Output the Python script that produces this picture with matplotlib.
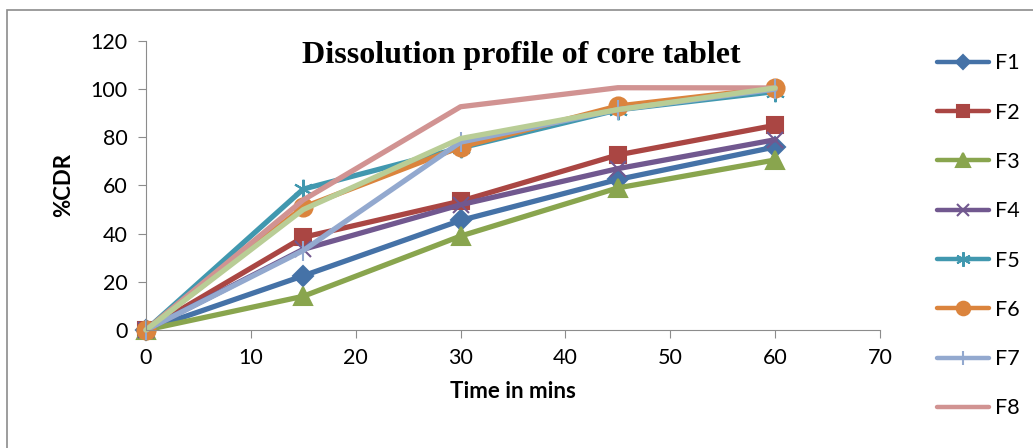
import matplotlib.pyplot as plt
from matplotlib.patches import Rectangle

time_min = [0, 15, 30, 45, 60]

f1 = [0, 22.5, 45.5, 62.5, 76]
f2 = [0, 38.5, 53.5, 72.7, 85]
f3 = [0, 14, 39, 59, 70.6]
f4 = [0, 33.5, 52, 67, 79]
f5 = [0, 58.5, 75.6, 91.4, 99]
f6 = [0, 51, 76, 93, 100.5]
f7 = [0, 33, 78, 91.5, 100]
f8 = [0, 54, 92.7, 100.6, 100.5]
f9 = [0, 50, 79.5, 91.5, 100.5]

labels = ["F1", "F2", "F3", "F4", "F5", "F6", "F7", "F8", "F9"]
series = [f1, f2, f3, f4, f5, f6, f7, f8, f9]
colors = ["#4572A7", "#AA4643", "#89A54E", "#71588F", "#4198AF",
          "#DB843D", "#93A9CF", "#D19392", "#B9CD96"]
markers = ["D", "s", "^", "x", (6, 2, 0), "o", "|", None, None]
msizes = [10, 12, 13, 12, 14, 13, 14, 0, 0]

plt.rcParams["font.family"] = ["Lato", "DejaVu Sans"]

fig = plt.figure(figsize=(10.33, 4.48), dpi=100)
fig.patches.append(Rectangle((0.007, -0.1), 1.1, 1.078, transform=fig.transFigure,
                             fill=False, edgecolor="#8c8c8c", linewidth=1.2))

ax = fig.add_axes([0.1413, 0.2634, 0.7106, 0.6451])

handles = []
for i in range(len(series)):
    h, = ax.plot(time_min, series[i], color=colors[i], linewidth=3.8,
                 marker=markers[i], markersize=msizes[i], markeredgecolor=colors[i],
                 markeredgewidth=1.5, label=labels[i], solid_capstyle="round",
                 clip_on=False)
    handles.append(h)

ax.set_xlim(0, 70)
ax.set_ylim(0, 120)
ax.set_xticks(range(0, 71, 10))
ax.set_yticks(range(0, 121, 20))
ax.tick_params(labelsize=15.5, length=6, color="#8c8c8c", pad=7)
for side in ["top", "right"]:
    ax.spines[side].set_visible(False)
for side in ["left", "bottom"]:
    ax.spines[side].set_color("#8c8c8c")

ax.set_xlabel("Time in mins", fontsize=16, fontweight="bold", labelpad=9)
ax.set_ylabel("%CDR", fontsize=16, fontweight="bold", labelpad=12)
ax.text(0.511, 1.0, "Dissolution profile of core tablet", transform=ax.transAxes,
        ha="center", va="top", fontsize=23, fontweight="bold",
        family=["Liberation Serif", "DejaVu Serif"])

leg = fig.legend(handles=handles[:8], loc="upper left", bbox_to_anchor=(0.899, 0.9),
                 frameon=False, fontsize=15.5, handlelength=2.4, labelspacing=1.36,
                 handletextpad=0.3, borderaxespad=0, markerscale=0.75)
for line in leg.get_lines():
    line.set_linewidth(3.2)

fig.savefig("out.png", dpi=100)
